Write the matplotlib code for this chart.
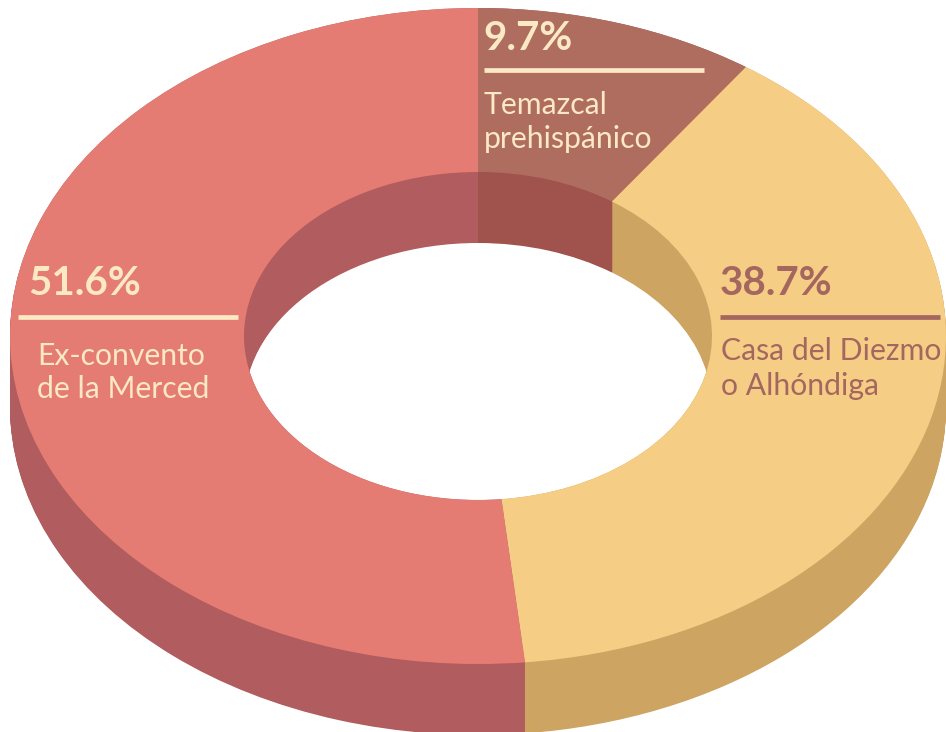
from matplotlib import pyplot as plt
import numpy as np

# datos del grafico
shares = [9.7, 38.7, 51.6]
pct_labels = ["9.7%", "38.7%", "51.6%"]
names = [["Temazcal", "prehispánico"], ["Casa del Diezmo", "o Alhóndiga"], ["Ex-convento", "de la Merced"]]
top_colors = ["#ae6d5f", "#f6cd85", "#e57c74"]
side_colors = ["#a0524c", "#cea462", "#b15c5e"]

W, H = 946, 732
cx, cy = 478, 336
rx, ry = 468, 328
depth = 71 / ry

plt.rcParams['font.family'] = ['Lato', 'DejaVu Sans']
fig = plt.figure(figsize=(W / 100, H / 100), dpi=100, facecolor="white")
ax = fig.add_axes([0, 0, 1, 1])

# capas oscuras para dar el grosor, luego la cara de arriba
for off in np.linspace(-depth, 0, 72):
    ax.pie(shares, colors=side_colors, startangle=90, counterclock=False, radius=1,
           center=(0, off), wedgeprops=dict(width=0.5, linewidth=0))
ax.pie(shares, colors=top_colors, startangle=90, counterclock=False, radius=1,
       center=(0, 0), wedgeprops=dict(width=0.5, linewidth=0))

ax.set_aspect("auto")
ax.set_xlim(-cx / rx, (W - cx) / rx)
ax.set_ylim((cy - H) / ry, cy / ry)
ax.axis("off")


# helper: texto y lineas en pixeles de la imagen
def px(x, y):
    return (x - cx) / rx, (cy - y) / ry


cream = "#fbe8c5"
brown = "#a3675f"
label_spots = [
    (483, 50, 484, 704, 70, 484, (114, 148), cream),
    (720, 295, 720, 940, 317, 721, (360, 395), brown),
    (28, 295, 18, 238, 317, 37, (365, 398), cream),
]
for i, (px_x, px_y, l0, l1, ly, nx, nys, col) in enumerate(label_spots):
    x, y = px(px_x, px_y)
    ax.text(x, y, pct_labels[i], color=col, fontsize=29, fontweight="bold", va="baseline", ha="left")
    x0, yl = px(l0, ly)
    x1, _ = px(l1, ly)
    ax.plot([x0, x1], [yl, yl], color=col, lw=3.4, solid_capstyle="butt")
    for line, ny in zip(names[i], nys):
        x, y = px(nx, ny)
        ax.text(x, y, line, color=col, fontsize=21.7, va="baseline", ha="left")

fig.savefig("out.png", dpi=100)
